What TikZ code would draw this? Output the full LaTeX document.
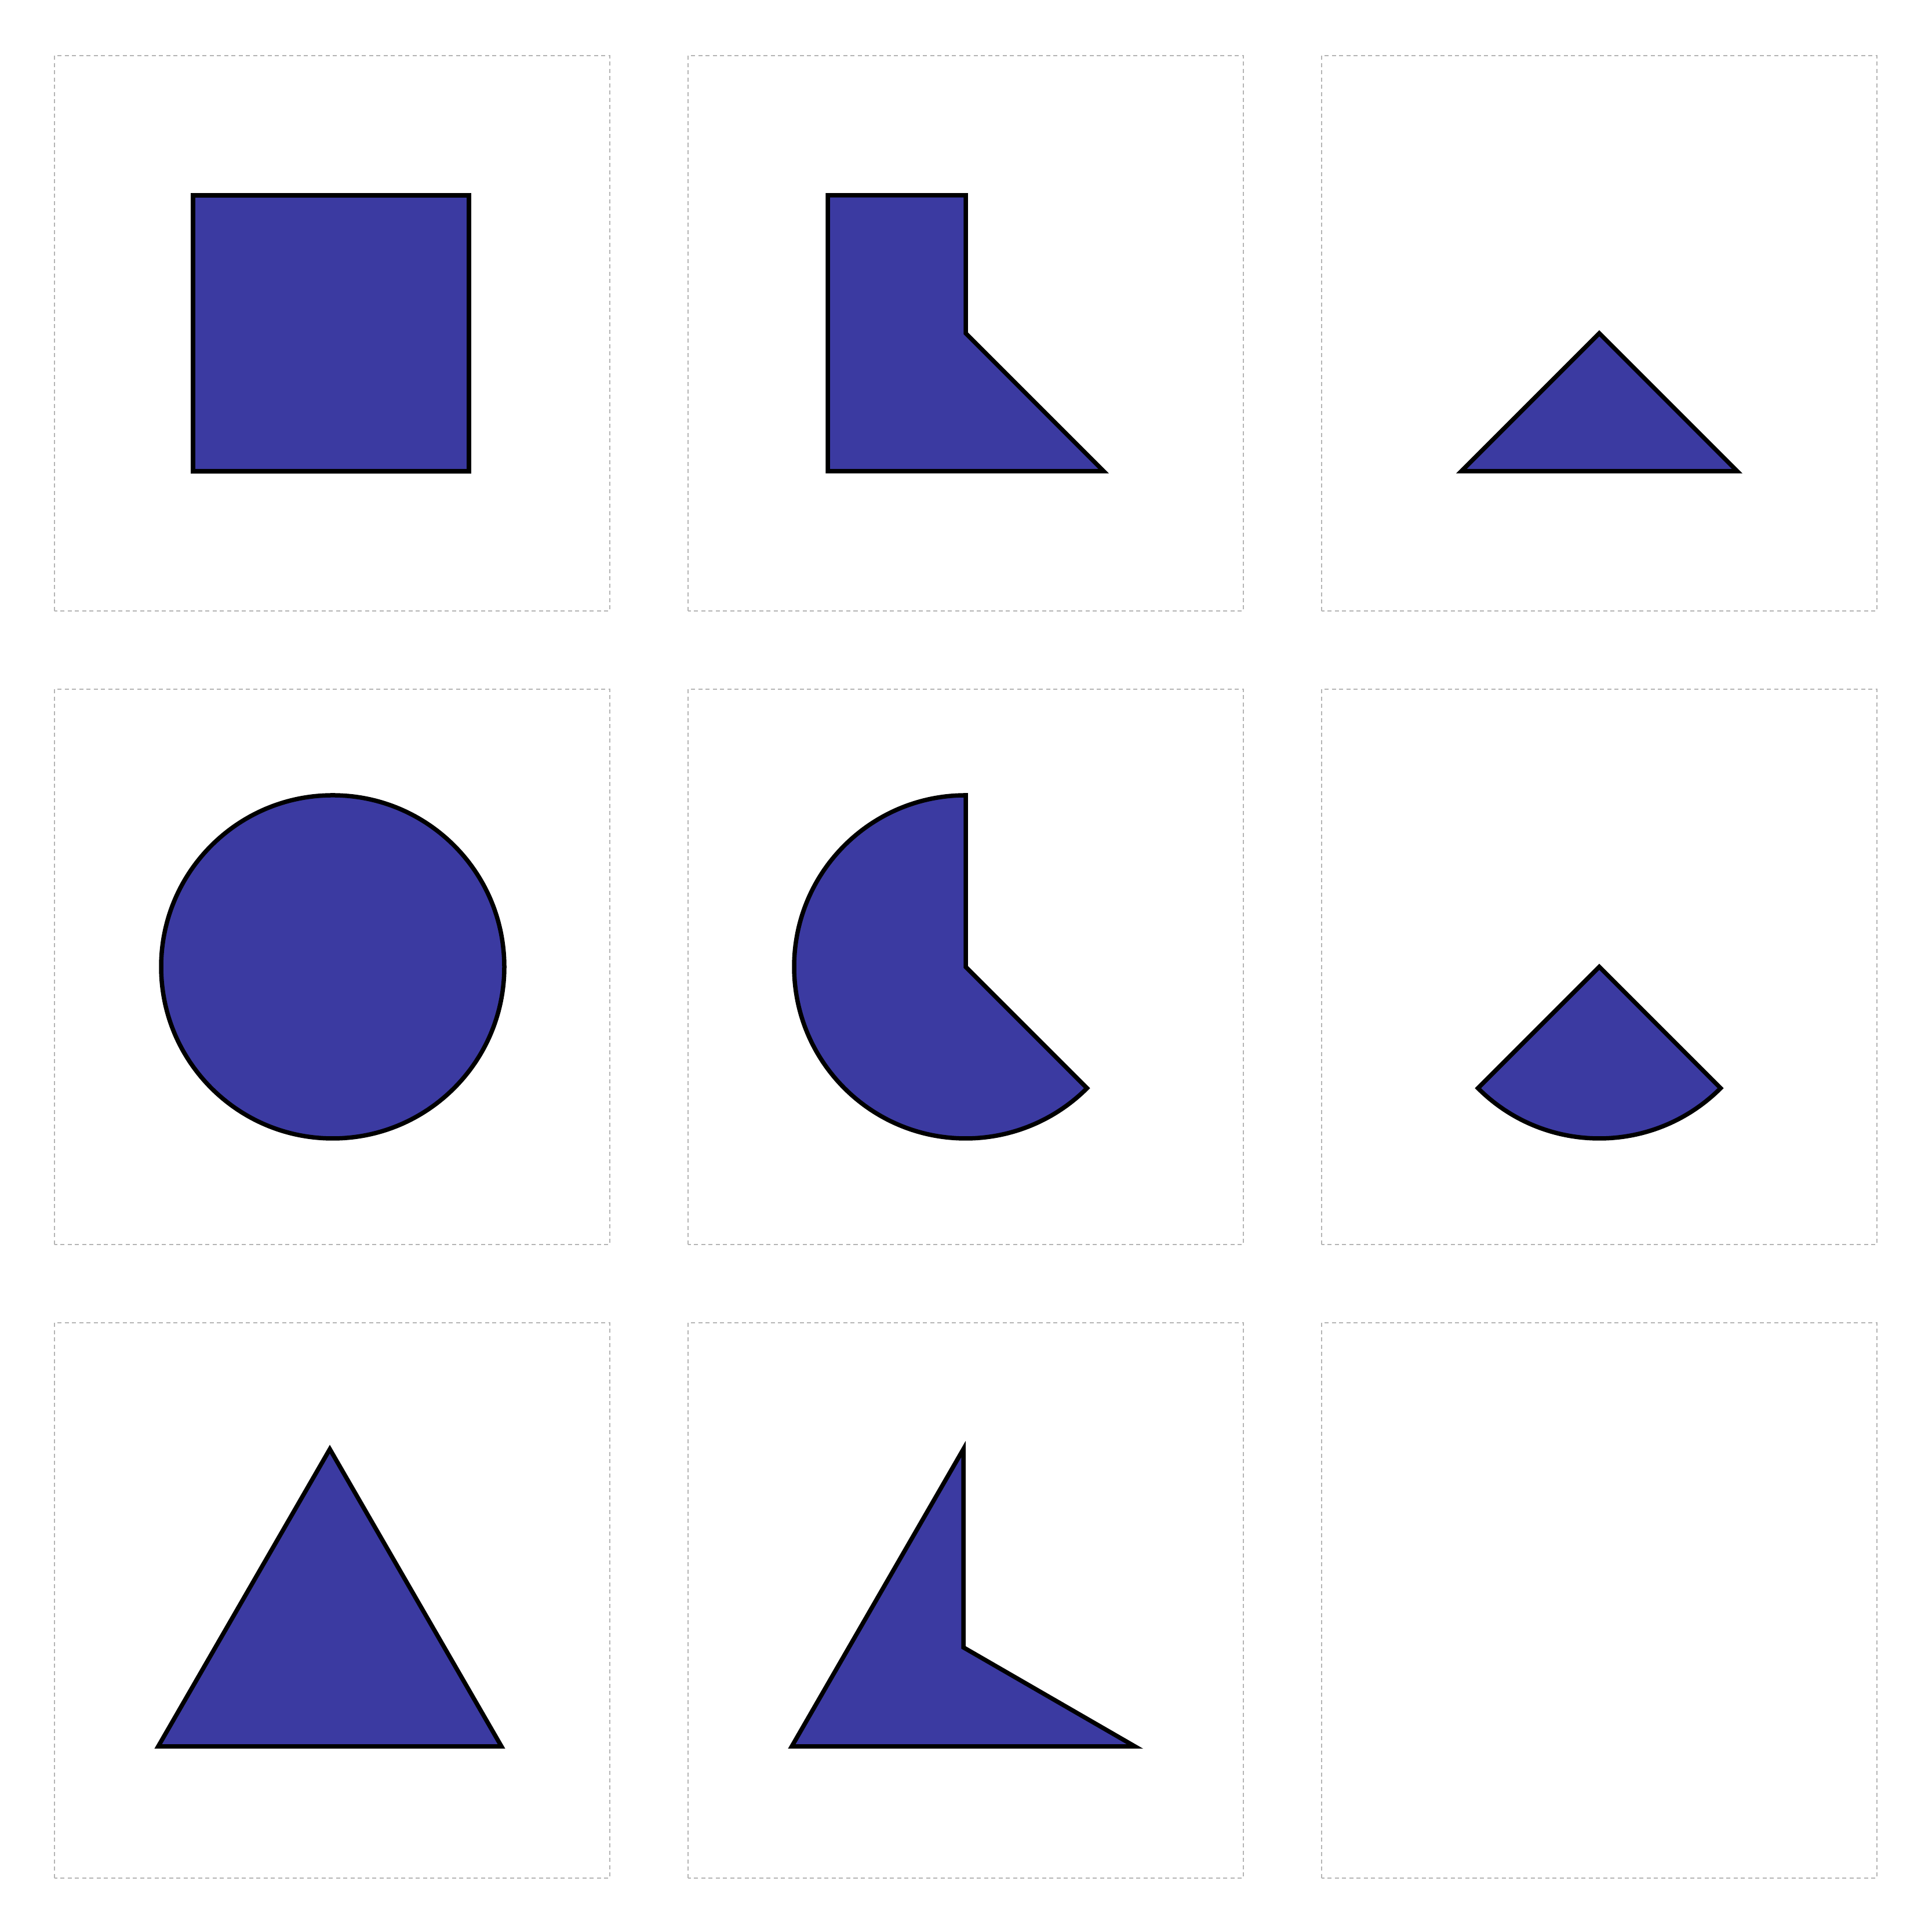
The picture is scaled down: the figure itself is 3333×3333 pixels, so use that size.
\documentclass[tikz,border=0pt]{standalone}
\usetikzlibrary{calc}
\definecolor{shapefill}{RGB}{59,58,161}
\definecolor{panelgray}{RGB}{180,180,180}
\begin{document}
\begin{tikzpicture}[x=0.01cm,y=0.01cm,
  panelbox/.style={draw=panelgray,line width=0.018cm,dash pattern=on 0.07cm off 0.055cm},
  shapestyle/.style={fill=shapefill,draw=black,line width=0.075cm}]
\useasboundingbox[fill=white] (0,0) rectangle (3333,3333);
% panels
\foreach \i in {0,1,2}{
  \foreach \j in {0,1,2}{
    \draw[panelbox] ({94+1093*\i},{2279-1093*\j}) rectangle ++(958,958);
  }
}
% centres
\coordinate (c00) at (571,2758);
\coordinate (c10) at (1666,2758);
\coordinate (c20) at (2759,2758);
\coordinate (c01) at (574,1665);
\coordinate (c11) at (1666,1665);
\coordinate (c21) at (2759,1665);
\coordinate (g02) at (569,491);
\coordinate (g12) at (1662,491);
\def\hs{238}
\def\rc{296}
\def\rt{342}
% row 1
\draw[shapestyle] ($(c00)+(-\hs,-\hs)$) rectangle ($(c00)+(\hs,\hs)$);
\draw[shapestyle] ($(c10)+(0,\hs)$) -- (c10) -- ($(c10)+(\hs,-\hs)$) -- ($(c10)+(-\hs,-\hs)$) -- ($(c10)+(-\hs,\hs)$) -- cycle;
\draw[shapestyle] (c20) -- ($(c20)+(\hs,-\hs)$) -- ($(c20)+(-\hs,-\hs)$) -- cycle;
% row 2
\draw[shapestyle] (c01) circle (\rc);
\draw[shapestyle] (c11) -- ($(c11)+(0,\rc)$) arc (90:315:\rc) -- cycle;
\draw[shapestyle] (c21) -- ($(c21)+(225:\rc)$) arc (225:315:\rc) -- cycle;
% row 3
\draw[shapestyle] ($(g02)+(90:\rt)$) -- ($(g02)+(210:\rt)$) -- ($(g02)+(330:\rt)$) -- cycle;
\draw[shapestyle] (g12) -- ($(g12)+(90:\rt)$) -- ($(g12)+(210:\rt)$) -- ($(g12)+(330:\rt)$) -- cycle;
\end{tikzpicture}
\end{document}
